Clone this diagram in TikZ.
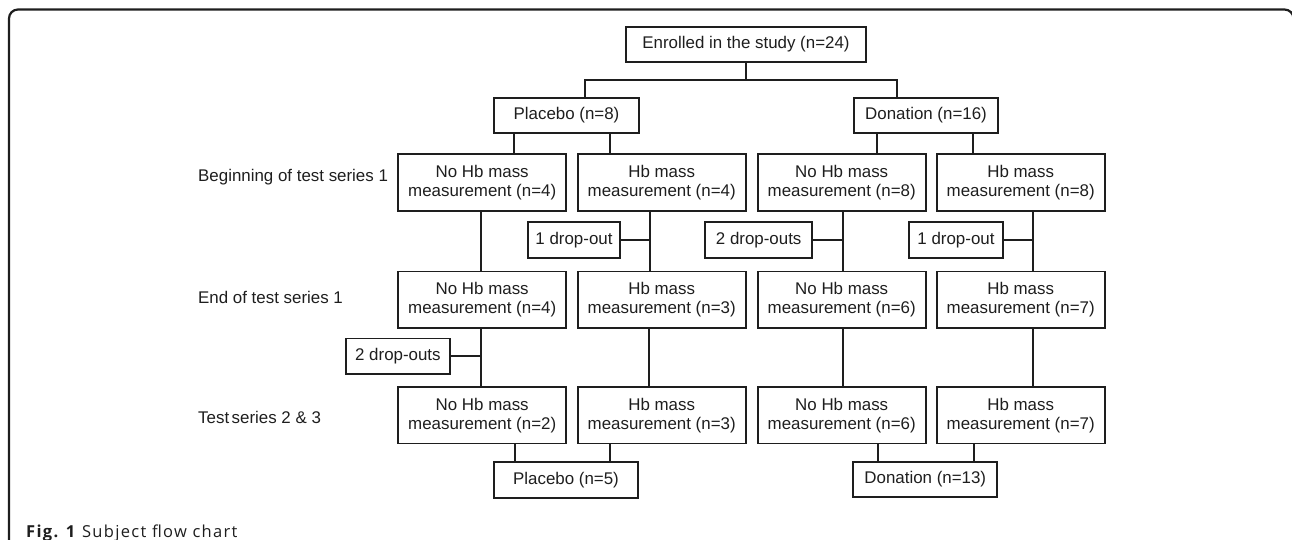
\documentclass[tikz,border=0pt]{standalone}
\usepackage{fontspec}
\setmainfont{Liberation Sans}
\newfontfamily\capfont[LetterSpace=8]{Open Sans}
\usetikzlibrary{calc}
\definecolor{ink}{HTML}{1E1E1E}
\begin{document}
\begin{tikzpicture}[x=1pt,y=-1pt,
  every node/.style={font=\fontsize{16.9}{19}\selectfont, text=ink},
  box/.style={draw=ink, line width=1.8pt, align=center, inner sep=0pt, minimum height=56.4pt, minimum width=168pt},
  sbox/.style={draw=ink, line width=1.8pt, align=center, inner sep=0pt, minimum height=35.6pt},
  conn/.style={draw=ink, line width=1.8pt},
  rowlabel/.style={anchor=west, inner sep=0pt}]
\useasboundingbox (0,0) rectangle (1292,540);
\begin{scope}
\clip (0,0) rectangle (1292,540);
\draw[ink, line width=2.2pt, rounded corners=9pt] (9,560) -- (9,9.5) -- (1293.5,9.5) -- (1293.5,560);
\end{scope}

% top
\node[sbox, minimum width=240pt] (enr) at (746,44.5) {Enrolled in the study (n=24)};
\node[sbox, minimum width=144.4pt] (plac8) at (566.5,115.5) {Placebo (n=8)};
\node[sbox, minimum width=144pt] (don16) at (926,115.5) {Donation (n=16)};

% row labels
\node[rowlabel] (l1) at (198,177.3) {Beginning of test series 1};
\node[rowlabel] (l2) at (198,297.3) {End of test series 1};
\node[rowlabel] (l3) at (198,417.3) {Test\hspace{2.5pt}series 2 \& 3};

% row 1
\node[box] (a1) at (482.2,182.5) {No Hb mass\\measurement (n=4)};
\node[box] (b1) at (661.7,182.5) {Hb mass\\measurement (n=4)};
\node[box] (c1) at (841.7,182.5) {No Hb mass\\measurement (n=8)};
\node[box] (d1) at (1020.7,182.5) {Hb mass\\measurement (n=8)};
% row 2
\node[box] (a2) at (482.2,299.7) {No Hb mass\\measurement (n=4)};
\node[box] (b2) at (661.7,299.7) {Hb mass\\measurement (n=3)};
\node[box] (c2) at (841.7,299.7) {No Hb mass\\measurement (n=6)};
\node[box] (d2) at (1020.7,299.7) {Hb mass\\measurement (n=7)};
% row 3
\node[box] (a3) at (482.2,415.2) {No Hb mass\\measurement (n=2)};
\node[box] (b3) at (661.7,415.2) {Hb mass\\measurement (n=3)};
\node[box] (c3) at (841.7,415.2) {No Hb mass\\measurement (n=6)};
\node[box] (d3) at (1020.7,415.2) {Hb mass\\measurement (n=7)};

% drop-outs
\node[sbox, minimum width=92.6pt] (dB) at (574,240) {1 drop-out};
\node[sbox, minimum width=107.3pt] (dC) at (758.7,240) {2 drop-outs};
\node[sbox, minimum width=94pt] (dD) at (956,240) {1 drop-out};
\node[sbox, minimum width=104.3pt] (dA) at (397.9,356.2) {2 drop-outs};

% bottom
\node[sbox, minimum width=144pt] (plac5) at (566,479.8) {Placebo (n=5)};
\node[sbox, minimum width=144pt] (don13) at (925.3,479.5) {Donation (n=13)};

% caption
\node[anchor=base west, inner sep=0pt, font=\capfont\fontsize{16.5}{20}\selectfont, text=ink] (cap) at (26,537) {\textbf{Fig. 1} Subject flow chart};

% connectors: top
\coordinate (jt) at (746,80);
\draw[conn] (enr.south) -- (jt);
\draw[conn] ([xshift=18.5pt]plac8.north) |- (jt) -| ([xshift=-29pt]don16.north);

\coordinate (pa) at ([xshift=-52.5pt]plac8.south);
\coordinate (pb) at ([xshift=43.2pt]plac8.south);
\draw[conn] (pa) -- (pa |- a1.north);
\draw[conn] (pb) -- (pb |- b1.north);
\coordinate (dc) at ([xshift=-48.7pt]don16.south);
\coordinate (dd) at ([xshift=47.3pt]don16.south);
\draw[conn] (dc) -- (dc |- c1.north);
\draw[conn] (dd) -- (dd |- d1.north);

% column verticals
\coordinate (va) at ([xshift=-1.5pt]a1.south);
\coordinate (vb) at ([xshift=-11.7pt]b1.south);
\coordinate (vc) at ([xshift=1.3pt]c1.south);
\coordinate (vd) at ([xshift=12.6pt]d1.south);
\draw[conn] (va) -- (va |- a2.north);
\draw[conn] (vb) -- (vb |- b2.north);
\draw[conn] (vc) -- (vc |- c2.north);
\draw[conn] (vd) -- (vd |- d2.north);
\draw[conn] (dB.east) -- (dB.east -| vb);
\draw[conn] (dC.east) -- (dC.east -| vc);
\draw[conn] (dD.east) -- (dD.east -| vd);

\coordinate (wa) at ([xshift=-1.5pt]a2.south);
\coordinate (wb) at ([xshift=-12.4pt]b2.south);
\coordinate (wc) at ([xshift=1.3pt]c2.south);
\coordinate (wd) at ([xshift=12.3pt]d2.south);
\draw[conn] (wa) -- (wa |- a3.north);
\draw[conn] (wb) -- (wb |- b3.north);
\draw[conn] (wc) -- (wc |- c3.north);
\draw[conn] (wd) -- (wd |- d3.north);
\draw[conn] (dA.east) -- (dA.east -| wa);

% bottom connectors
\coordinate (xa) at ([xshift=-51.3pt]plac5.north);
\coordinate (xb) at ([xshift=44.3pt]plac5.north);
\coordinate (xc) at ([xshift=-47pt]don13.north);
\coordinate (xd) at ([xshift=48.7pt]don13.north);
\draw[conn] (xa |- a3.south) -- (xa);
\draw[conn] (xb |- b3.south) -- (xb);
\draw[conn] (xc |- c3.south) -- (xc);
\draw[conn] (xd |- d3.south) -- (xd);
\end{tikzpicture}
\end{document}
